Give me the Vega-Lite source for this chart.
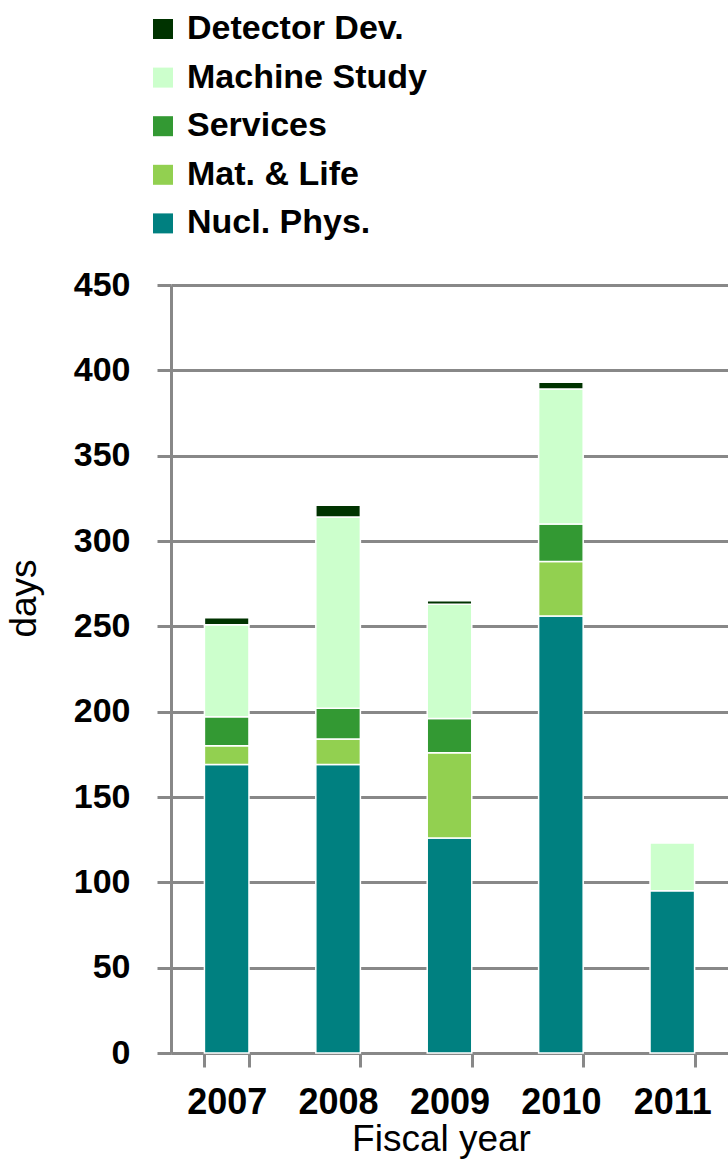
{
  "$schema": "https://vega.github.io/schema/vega-lite/v6.json",
  "width": 557,
  "height": 768,
  "autosize": {"type": "none"},
  "padding": {"left": 171, "top": 285, "right": 0, "bottom": 114},
  "background": "white",
  "config": {"view": {"stroke": null}},
  "data": {
    "values": [
      {"year": "2007", "activity": "Nucl. Phys.", "k": 1, "days": 169},
      {"year": "2007", "activity": "Mat. & Life", "k": 2, "days": 11},
      {"year": "2007", "activity": "Services", "k": 3, "days": 17},
      {"year": "2007", "activity": "Machine Study", "k": 4, "days": 54},
      {"year": "2007", "activity": "Detector Dev.", "k": 5, "days": 4},
      {"year": "2008", "activity": "Nucl. Phys.", "k": 1, "days": 169},
      {"year": "2008", "activity": "Mat. & Life", "k": 2, "days": 15},
      {"year": "2008", "activity": "Services", "k": 3, "days": 18},
      {"year": "2008", "activity": "Machine Study", "k": 4, "days": 112},
      {"year": "2008", "activity": "Detector Dev.", "k": 5, "days": 7},
      {"year": "2009", "activity": "Nucl. Phys.", "k": 1, "days": 126},
      {"year": "2009", "activity": "Mat. & Life", "k": 2, "days": 50},
      {"year": "2009", "activity": "Services", "k": 3, "days": 20},
      {"year": "2009", "activity": "Machine Study", "k": 4, "days": 67},
      {"year": "2009", "activity": "Detector Dev.", "k": 5, "days": 2},
      {"year": "2010", "activity": "Nucl. Phys.", "k": 1, "days": 256},
      {"year": "2010", "activity": "Mat. & Life", "k": 2, "days": 32},
      {"year": "2010", "activity": "Services", "k": 3, "days": 22},
      {"year": "2010", "activity": "Machine Study", "k": 4, "days": 79},
      {"year": "2010", "activity": "Detector Dev.", "k": 5, "days": 4},
      {"year": "2011", "activity": "Nucl. Phys.", "k": 1, "days": 95},
      {"year": "2011", "activity": "Machine Study", "k": 4, "days": 28}
    ]
  },
  "mark": {"type": "bar", "stroke": "white", "strokeWidth": 1.5},
  "encoding": {
    "x": {
      "field": "year",
      "type": "ordinal",
      "title": "Fiscal year",
      "scale": {"paddingInner": 0.6, "paddingOuter": 0.3},
      "axis": {
        "tickBand": "extent",
        "ticks": true,
        "tickSize": 14,
        "tickColor": "#888888",
        "tickWidth": 3,
        "domainColor": "#888888",
        "domainWidth": 3,
        "labelAngle": 0,
        "labelFont": "Liberation Sans",
        "labelFontSize": 36,
        "labelFontWeight": "bold",
        "labelColor": "black",
        "labelPadding": 18,
        "titleFont": "Liberation Sans",
        "titleFontSize": 37,
        "titleFontWeight": "normal",
        "titleColor": "black",
        "titleX": 270,
        "titleY": 68,
        "titleBaseline": "top"
      }
    },
    "y": {
      "field": "days",
      "type": "quantitative",
      "stack": "zero",
      "title": "days",
      "scale": {"domain": [0, 450], "nice": false},
      "axis": {
        "values": [0, 50, 100, 150, 200, 250, 300, 350, 400, 450],
        "grid": true,
        "gridColor": "#888888",
        "gridWidth": 3,
        "domainColor": "#888888",
        "domainWidth": 3,
        "tickColor": "#888888",
        "tickWidth": 3,
        "tickSize": 14,
        "labelFont": "Liberation Sans",
        "labelFontSize": 34,
        "labelFontWeight": "bold",
        "labelColor": "black",
        "labelPadding": 27,
        "titleFont": "Liberation Sans",
        "titleFontSize": 37,
        "titleFontWeight": "normal",
        "titleColor": "black",
        "titleX": -128,
        "titleY": 313,
        "titleBaseline": "bottom"
      }
    },
    "color": {
      "field": "activity",
      "type": "nominal",
      "scale": {
        "domain": ["Detector Dev.", "Machine Study", "Services", "Mat. & Life", "Nucl. Phys."],
        "range": ["#003300", "#CCFFCC", "#339933", "#92D050", "#008080"]
      },
      "legend": {
        "orient": "none",
        "legendX": -25,
        "legendY": -273,
        "title": null,
        "direction": "vertical",
        "symbolType": "square",
        "symbolSize": 400,
        "symbolStrokeWidth": 0,
        "labelFont": "Liberation Sans",
        "labelFontSize": 34,
        "labelFontWeight": "bold",
        "labelColor": "black",
        "labelOffset": 7,
        "labelLimit": 500,
        "rowPadding": 14.6,
        "padding": 0
      }
    },
    "order": {"field": "k", "type": "quantitative"}
  }
}
